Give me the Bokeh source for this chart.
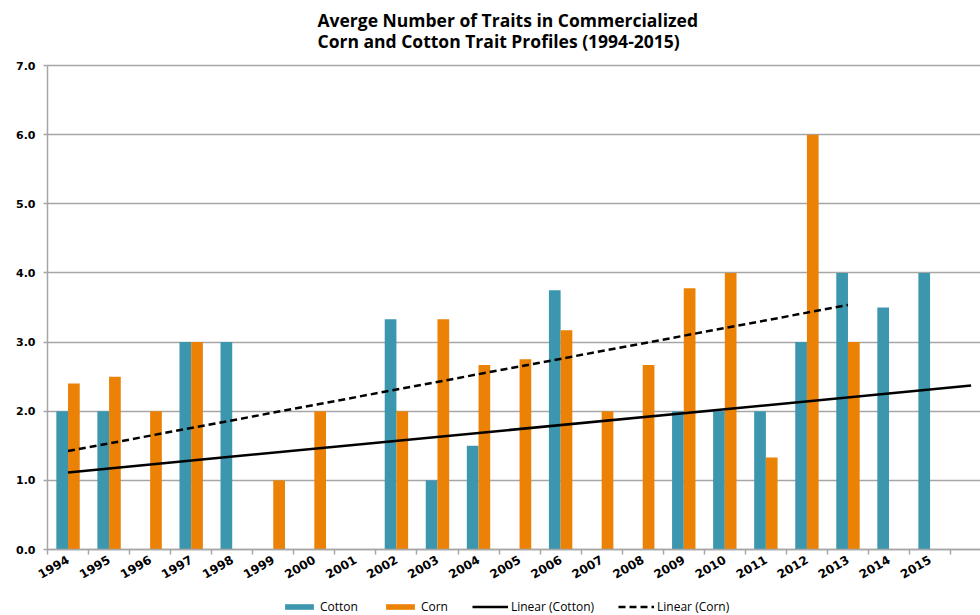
import numpy as np
from bokeh.plotting import figure
from bokeh.models import Range1d, FixedTicker, Legend, LegendItem, PrintfTickFormatter
from bokeh.embed import file_html
from bokeh.resources import INLINE

# ---- data ----
years = ["1994", "1995", "1996", "1997", "1998", "1999", "2000", "2001", "2002", "2003",
         "2004", "2005", "2006", "2007", "2008", "2009", "2010", "2011", "2012", "2013",
         "2014", "2015", ""]
cotton = [2.0, 2.0, 0.0, 3.0, 3.0, 0.0, 0.0, 0.0, 3.33, 1.0, 1.5, 0.0, 3.75, 0.0, 0.0,
          2.0, 2.0, 2.0, 3.0, 4.0, 3.5, 4.0, 0.0]
corn = [2.4, 2.5, 2.0, 3.0, 0.0, 1.0, 2.0, 0.0, 2.0, 3.33, 2.67, 2.75, 3.17, 2.0, 2.67,
        3.78, 4.0, 1.33, 6.0, 3.0]
y_ticks = [0, 1, 2, 3, 4, 5, 6, 7]
title_lines = ["Averge Number of Traits in Commercialized",
               "Corn and Cotton Trait Profiles (1994-2015)"]
series_names = ["Cotton", "Corn", "Linear (Cotton)", "Linear (Corn)"]

COTTON_C = "#3C97AE"
CORN_C = "#EB8205"
GRID_C = "#A6A6A6"

# layout (pixels): value 0 at y=549, value 7 at y=65, first year starts at x=47, 41.05 px per year
W, H = 980, 615
X0_PX, Y0_PX, Y7_PX, CAT_PX = 47, 549, 65, 41.05
FRAME_TOP = 58
UNIT_PX = (Y0_PX - Y7_PX) / max(y_ticks)

n = len(years)
centers = np.arange(n) + 0.5
bw = 0.285
x_end = (W - X0_PX) / CAT_PX

# the frame covers the canvas below the title; both axes are pinned at 0
p = figure(width=W, height=H,
           x_range=Range1d(-X0_PX / CAT_PX, x_end),
           y_range=Range1d(-(H - Y0_PX) / UNIT_PX, max(y_ticks) + (Y7_PX - FRAME_TOP) / UNIT_PX),
           output_backend="svg", toolbar_location=None,
           min_border_left=0, min_border_right=0, min_border_top=FRAME_TOP, min_border_bottom=0,
           outline_line_color=None, background_fill_color="white", border_fill_color="white")

p.title.text = "\n".join(title_lines)
p.title.align = "left"
p.title.offset = 317
p.title.text_font = "Open Sans"
p.title.text_font_size = "17.5px"
p.title.text_font_style = "bold"
p.title.text_color = "black"
p.title.text_line_height = 0.89
p.title.standoff = 11

# bars
r_cot = p.vbar(x=centers - bw / 2, width=bw, top=cotton, bottom=0,
               fill_color=COTTON_C, line_color=None)
r_corn = p.vbar(x=centers[:len(corn)] + bw / 2, width=bw, top=corn, bottom=0,
                fill_color=CORN_C, line_color=None)

# linear trends (least squares, as Excel)
xc = np.arange(len(cotton))
mc, bc = np.polyfit(xc, cotton, 1)
xk = np.arange(len(corn))
mk, bk = np.polyfit(xk, corn, 1)
r_tc = p.line(x=[centers[0], centers[len(cotton) - 1]], y=[bc, bc + mc * (len(cotton) - 1)],
              line_color="black", line_width=2.5)
r_tk = p.line(x=[centers[0], centers[len(corn) - 1]], y=[bk, bk + mk * (len(corn) - 1)],
              line_color="black", line_width=2.5, line_dash="7 4")

# grid
p.xgrid.visible = False
p.ygrid.ticker = FixedTicker(ticks=y_ticks)
p.ygrid.cross_bounds = (0, x_end)
p.ygrid.grid_line_color = GRID_C
p.ygrid.grid_line_width = 1.5

# y axis, drawn at x = 0
ya = p.yaxis[0]
ya.fixed_location = 0
ya.ticker = FixedTicker(ticks=y_ticks)
ya.bounds = (min(y_ticks), max(y_ticks))
ya.formatter = PrintfTickFormatter(format="%.1f")
ya.axis_line_color = GRID_C
ya.axis_line_width = 1.5
ya.major_tick_line_color = GRID_C
ya.major_tick_line_width = 1.5
ya.major_tick_out = 4
ya.major_tick_in = 0
ya.minor_tick_line_color = None
ya.major_label_text_font = "DejaVu Sans"
ya.major_label_text_font_style = "bold"
ya.major_label_text_font_size = "11px"
ya.major_label_text_color = "black"
ya.major_label_standoff = 8

# x axis, drawn at y = 0
xa = p.xaxis[0]
xa.fixed_location = 0
xa.bounds = (0, x_end)
xa.ticker = FixedTicker(ticks=list(centers), minor_ticks=list(np.arange(n)))
xa.major_label_overrides = {float(c): y for c, y in zip(centers, years)}
xa.axis_line_color = GRID_C
xa.axis_line_width = 1.5
xa.major_tick_line_color = None
xa.major_tick_out = 0
xa.major_tick_in = 0
xa.minor_tick_line_color = GRID_C
xa.minor_tick_line_width = 1.5
xa.minor_tick_out = 5
xa.minor_tick_in = 0
xa.major_label_orientation = np.pi / 6
xa.major_label_text_font = "DejaVu Sans"
xa.major_label_text_font_style = "bold"
xa.major_label_text_font_size = "12px"
xa.major_label_text_color = "black"
xa.major_label_standoff = 4

# legend
legend = Legend(items=[LegendItem(label=series_names[0], renderers=[r_cot]),
                       LegendItem(label=series_names[1], renderers=[r_corn]),
                       LegendItem(label=series_names[2], renderers=[r_tc]),
                       LegendItem(label=series_names[3], renderers=[r_tk])],
                orientation="horizontal", location=(281, 0),
                glyph_width=36, glyph_height=7, label_standoff=3, spacing=24,
                padding=0, margin=0, border_line_color=None, background_fill_alpha=0,
                label_text_font="Open Sans", label_text_font_size="12px",
                label_text_color="black", label_height=14)
p.add_layout(legend, "center")

open("out.html", "w").write(file_html(p, INLINE))
